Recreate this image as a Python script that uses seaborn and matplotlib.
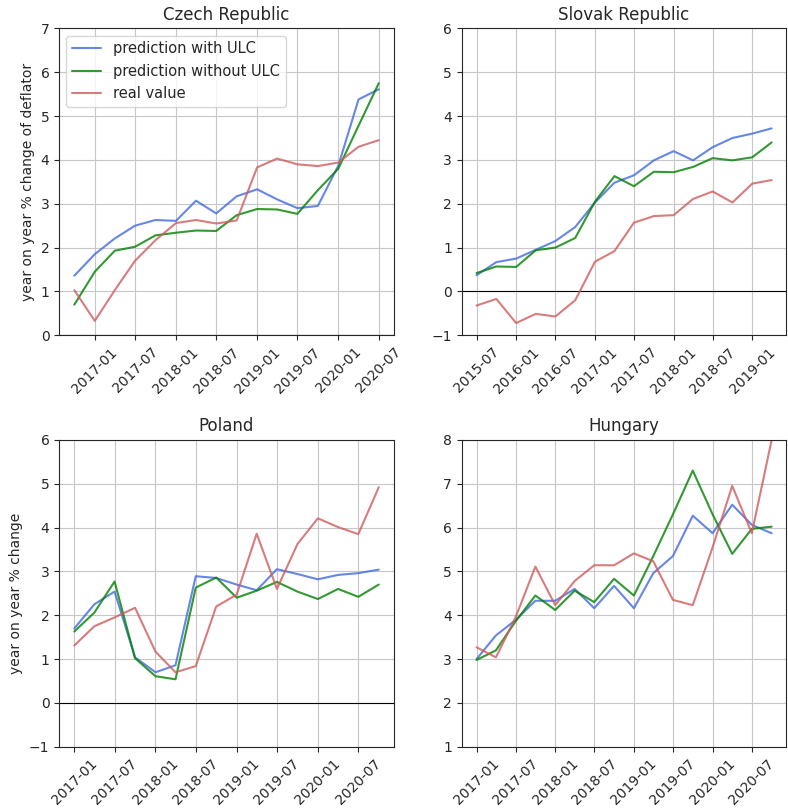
import pandas as pd
import numpy as np
import seaborn as sns
import matplotlib.pyplot as plt
import matplotlib.dates as mdates

sns.set_style('ticks', {'axes.grid': True})
plt.rcParams['font.family'] = ['DejaVu Sans']

# quarterly dates per country
cz_dates = ['2016-10-01', '2017-01-01', '2017-04-01', '2017-07-01', '2017-10-01', '2018-01-01',
            '2018-04-01', '2018-07-01', '2018-10-01', '2019-01-01', '2019-04-01', '2019-07-01',
            '2019-10-01', '2020-01-01', '2020-04-01', '2020-07-01']
sk_dates = ['2015-07-01', '2015-10-01', '2016-01-01', '2016-04-01', '2016-07-01', '2016-10-01',
            '2017-01-01', '2017-04-01', '2017-07-01', '2017-10-01', '2018-01-01', '2018-04-01',
            '2018-07-01', '2018-10-01', '2019-01-01', '2019-04-01']
pl_dates = ['2017-01-01', '2017-04-01', '2017-07-01', '2017-10-01', '2018-01-01', '2018-04-01',
            '2018-07-01', '2018-10-01', '2019-01-01', '2019-04-01', '2019-07-01', '2019-10-01',
            '2020-01-01', '2020-04-01', '2020-07-01', '2020-10-01']
hu_dates = pl_dates

cz_ulc = [1.36, 1.85, 2.21, 2.5, 2.63, 2.61, 3.07, 2.78, 3.17, 3.33, 3.1, 2.9, 2.95, 3.87, 5.38, 5.61]
cz_no_ulc = [0.7, 1.45, 1.93, 2.02, 2.28, 2.34, 2.39, 2.38, 2.74, 2.88, 2.87, 2.77, 3.31, 3.8, 4.78, 5.75]
cz_real = [1.03, 0.33, 1.03, 1.7, 2.17, 2.56, 2.63, 2.55, 2.62, 3.83, 4.03, 3.9, 3.86, 3.94, 4.3, 4.45]

sk_ulc = [0.37, 0.67, 0.75, 0.95, 1.15, 1.47, 2.03, 2.48, 2.65, 2.99, 3.2, 2.99, 3.29, 3.5, 3.6, 3.72]
sk_no_ulc = [0.42, 0.57, 0.56, 0.94, 1.0, 1.22, 2.05, 2.63, 2.4, 2.73, 2.72, 2.84, 3.04, 2.99, 3.06, 3.4]
sk_real = [-0.32, -0.17, -0.72, -0.51, -0.57, -0.2, 0.68, 0.92, 1.57, 1.72, 1.74, 2.11, 2.28, 2.03, 2.46, 2.54]

pl_ulc = [1.7, 2.25, 2.54, 1.04, 0.7, 0.86, 2.89, 2.85, 2.7, 2.57, 3.05, 2.94, 2.82, 2.92, 2.96, 3.04]
pl_no_ulc = [1.63, 2.06, 2.77, 1.02, 0.61, 0.54, 2.63, 2.86, 2.4, 2.56, 2.76, 2.54, 2.37, 2.6, 2.42, 2.7]
pl_real = [1.31, 1.75, 1.95, 2.17, 1.17, 0.7, 0.84, 2.2, 2.47, 3.86, 2.6, 3.62, 4.21, 4.01, 3.85, 4.92]

hu_ulc = [3.0, 3.54, 3.89, 4.33, 4.33, 4.6, 4.16, 4.67, 4.16, 4.96, 5.35, 6.27, 5.87, 6.52, 6.06, 5.87]
hu_no_ulc = [2.98, 3.2, 3.86, 4.45, 4.12, 4.56, 4.3, 4.83, 4.45, 5.35, 6.3, 7.3, 6.3, 5.4, 5.97, 6.02]
hu_real = [3.27, 3.04, 3.95, 5.11, 4.23, 4.78, 5.14, 5.14, 5.41, 5.23, 4.35, 4.23, 5.55, 6.95, 5.87, 8.0]

panels = [
    ('Czech Republic', cz_dates, cz_ulc, cz_no_ulc, cz_real, (0, 7), 'year on year % change of deflator'),
    ('Slovak Republic', sk_dates, sk_ulc, sk_no_ulc, sk_real, (-1, 6), None),
    ('Poland', pl_dates, pl_ulc, pl_no_ulc, pl_real, (-1, 6), 'year on year % change'),
    ('Hungary', hu_dates, hu_ulc, hu_no_ulc, hu_real, (1, 8), None),
]
labels = ['prediction with ULC', 'prediction without ULC', 'real value']
colors = ['royalblue', 'green', 'indianred']

fig = plt.figure(figsize=(7.88, 8.10), dpi=100)
positions = [[0.075, 0.586, 0.425, 0.379], [0.586, 0.586, 0.412, 0.379],
             [0.075, 0.078, 0.425, 0.379], [0.586, 0.078, 0.412, 0.379]]

for pos, (title, dates, ulc, no_ulc, real, ylim, ylab) in zip(positions, panels):
    ax = fig.add_axes(pos)
    d = pd.to_datetime(dates)
    ax.axhline(0, color='k', lw=0.8)
    for vals, lab, c in zip([ulc, no_ulc, real], labels, colors):
        sns.lineplot(x=d, y=vals, ax=ax, color=c, alpha=0.8, lw=1.5, label=lab)
    ax.set_ylim(*ylim)
    ax.set_title(title, fontsize=12)
    ax.xaxis.set_major_locator(mdates.MonthLocator(bymonth=[1, 7]))
    ax.xaxis.set_major_formatter(mdates.DateFormatter('%Y-%m'))
    ax.tick_params(axis='x', rotation=45, labelsize=10)
    ax.tick_params(axis='y', labelsize=10)
    for s in ax.spines.values():
        s.set_color('0.15')
    ax.grid(True, color='0.78')
    ax.set_xlabel('')
    if ylab:
        ax.set_ylabel(ylab, fontsize=10)
    if title == 'Czech Republic':
        ax.legend(loc='upper left', fontsize=10.5)
    else:
        ax.get_legend().remove()

fig.savefig('out.png', dpi=100)
